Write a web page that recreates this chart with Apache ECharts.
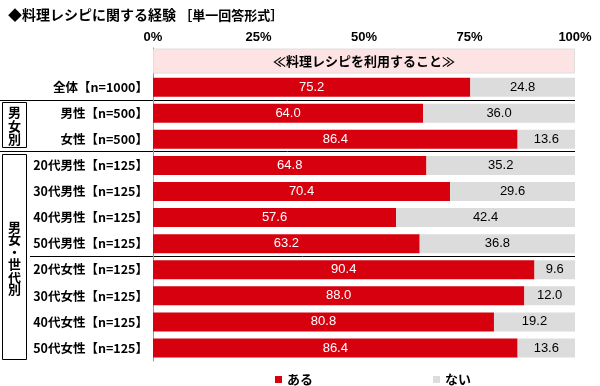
<!DOCTYPE html>
<html><head><meta charset="utf-8">
<script src="https://cdn.jsdelivr.net/npm/echarts@6/dist/echarts.min.js"></script>
<style>html,body{margin:0;padding:0;background:#fff}#c{width:600px;height:386px}</style>
</head><body><div id="c"></div>
<script>
const titleMain = '◆料理レシピに関する経験';
const titleSub = '［単一回答形式］';
const headerLabel = '≪料理レシピを利用すること≫';
const categories = ['全体【n=1000】','男性【n=500】','女性【n=500】','20代男性【n=125】','30代男性【n=125】','40代男性【n=125】','50代男性【n=125】','20代女性【n=125】','30代女性【n=125】','40代女性【n=125】','50代女性【n=125】'];
const aruValues = [75.2,64.0,86.4,64.8,70.4,57.6,63.2,90.4,88.0,80.8,86.4];
const naiValues = [24.8,36.0,13.6,35.2,29.6,42.4,36.8,9.6,12.0,19.2,13.6];
const xTicks = [0,25,50,75,100];
const seriesNames = ['ある','ない'];

const cats = [''].concat(categories);
const chart = echarts.init(document.getElementById('c'));
const jp = '"Noto Sans CJK JP", "Noto Sans", sans-serif';
const num = '"Liberation Sans", Arial, sans-serif';
chart.setOption({
  animation:false,
  title:{text:'{a|'+titleMain+'} {b|'+titleSub+'}',left:3,top:3,
    textStyle:{fontFamily:jp,fontSize:14,fontWeight:'bold',color:'#000',
      rich:{a:{fontFamily:jp,fontSize:14,fontWeight:'bold',color:'#000'},b:{fontFamily:jp,fontSize:13,fontWeight:'bold',color:'#000'}}}},
  legend:{data:seriesNames,left:270,top:368,itemGap:120,itemWidth:7,itemHeight:7,icon:'rect',textStyle:{fontFamily:jp,fontSize:13,fontWeight:'bold',color:'#000'}},
  grid:{left:153,right:25,top:48,bottom:25},
  xAxis:{type:'value',position:'top',min:0,max:100,interval:25,axisLine:{show:false},axisTick:{show:false},splitLine:{show:false},
    axisLabel:{formatter:v=>xTicks.includes(v)?v+'%':'',fontFamily:num,fontSize:13,fontWeight:'bold',color:'#000',margin:4}},
  yAxis:[{type:'category',data:cats,inverse:true,axisLine:{lineStyle:{color:'#999'}},axisTick:{length:3,lineStyle:{color:'#999'}},
    axisLabel:{fontFamily:jp,fontSize:12.5,fontWeight:'bold',color:'#000',margin:5}},
    {type:'category',data:cats,inverse:true,show:false}],
  series:[
    {name:'ある',type:'bar',stack:'a',barWidth:19,data:['-'].concat(aruValues),itemStyle:{color:'#d7000f'},
      label:{show:true,position:'inside',formatter:p=>p.value.toFixed(1),color:'#fff',fontFamily:num,fontSize:13}},
    {name:'ない',type:'bar',stack:'a',data:['-'].concat(naiValues),itemStyle:{color:'#dcdcdc'},
      label:{show:true,position:'inside',formatter:p=>p.value.toFixed(1),color:'#000',fontFamily:num,fontSize:13}},
    {name:'header',type:'bar',yAxisIndex:1,barWidth:25,data:[100].concat(categories.map(()=>'-')),itemStyle:{color:'#fde3e3',borderColor:'#ddd',borderWidth:1},
      label:{show:true,position:'inside',formatter:()=>headerLabel,color:'#000',fontFamily:jp,fontSize:13,fontWeight:'bold'}}
  ],
  graphic:[
    {type:'line',shape:{x1:0,y1:100.5,x2:575,y2:100.5},style:{stroke:'#000',lineWidth:1}},
    {type:'line',shape:{x1:0,y1:151.5,x2:575,y2:151.5},style:{stroke:'#000',lineWidth:1}},
    {type:'line',shape:{x1:30,y1:256.5,x2:575,y2:256.5},style:{stroke:'#000',lineWidth:1}},
    {type:'rect',shape:{x:2.5,y:102.5,width:24,height:45},style:{fill:'none',stroke:'#000',lineWidth:1}},
    {type:'rect',shape:{x:2.5,y:154.5,width:24,height:205},style:{fill:'none',stroke:'#000',lineWidth:1}},
    {type:'text',x:14.5,y:126,style:{text:'男\n女\n別',align:'center',verticalAlign:'middle',font:'bold 13px "Noto Sans CJK JP"',lineHeight:13.5,fill:'#000'}},
    {type:'text',x:14.5,y:258,style:{text:'男\n女\n・\n世\n代\n別',align:'center',verticalAlign:'middle',font:'bold 13px "Noto Sans CJK JP"',lineHeight:12.5,fill:'#000'}}
  ]
});
</script></body></html>
